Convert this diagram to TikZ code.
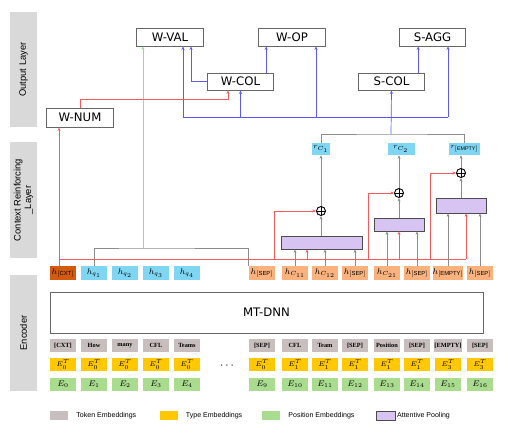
\documentclass[tikz,border=0pt]{standalone}
\usepackage{fontspec}
\setmainfont{Liberation Sans}
\newfontfamily\boxfont{DejaVu Sans}
\newfontfamily\tokfont{Liberation Serif}
\usetikzlibrary{positioning,arrows.meta}

\definecolor{sidegray}{HTML}{D9D9D9}
\definecolor{tokgray}{HTML}{C8BEBE}
\definecolor{typyellow}{HTML}{FFC800}
\definecolor{posgreen}{HTML}{A9DC8F}
\definecolor{hcyan}{HTML}{7FD6F2}
\definecolor{horange}{HTML}{F9B27E}
\definecolor{hcxtcol}{HTML}{D35A0E}
\definecolor{poolpurple}{HTML}{D8C4F2}
\definecolor{linkblue}{HTML}{5A5AF0}
\definecolor{linkred}{HTML}{F25C5C}
\definecolor{linkgreen}{HTML}{88E888}

\begin{document}
\begin{tikzpicture}[
    x=0.03cm, y=-0.03cm,
    side/.style={fill=sidegray, rotate=90, minimum width=3.45cm, minimum height=0.81cm, inner sep=0, align=center, font=\fontsize{8}{9}\selectfont},
    outbox/.style={draw=black!60, line width=0.7pt, fill=white, minimum width=2cm, minimum height=0.54cm, inner sep=0, font=\boxfont\fontsize{10}{12}\selectfont},
    tok/.style={fill=tokgray, minimum width=0.78cm, minimum height=0.4cm, inner sep=0, font=\tokfont\bfseries\fontsize{5.4}{6}\selectfont},
    typemb/.style={tok, fill=typyellow, font=\fontsize{6.5}{7}\selectfont},
    posemb/.style={tok, fill=posgreen, font=\fontsize{7}{8}\selectfont},
    hq/.style={fill=hcyan, minimum width=0.78cm, minimum height=0.42cm, inner sep=0, font=\fontsize{7}{8}\selectfont},
    hc/.style={hq, fill=horange},
    pool/.style={draw=black!70, line width=0.6pt, fill=poolpurple, inner sep=0, minimum height=0.39cm},
    sum/.style={circle, draw, line width=0.8pt, inner sep=0, minimum size=0.27cm,
        path picture={\draw (path picture bounding box.north) -- (path picture bounding box.south)
                            (path picture bounding box.west) -- (path picture bounding box.east);}},
    rbox/.style={fill=hcyan, minimum height=0.36cm, inner sep=1pt, font=\fontsize{6.5}{7}\selectfont},
    swatch/.style={minimum width=0.54cm, minimum height=0.27cm, inner sep=0},
    legtext/.style={inner sep=0, font=\fontsize{6}{7}\selectfont},
    gline/.style={draw=black!45, line width=0.6pt},
    garrow/.style={gline, -{Stealth[length=3pt,width=2.5pt]}},
    bline/.style={draw=linkblue, line width=0.6pt},
    barrow/.style={bline, -{Stealth[length=3pt,width=2.5pt]}},
    rline/.style={draw=linkred, line width=0.6pt},
    rarrow/.style={rline, -{Stealth[length=3pt,width=2.5pt]}},
    grarrow/.style={draw=linkgreen, line width=0.6pt, -{Stealth[length=3pt,width=2.5pt]}}
]
\useasboundingbox (0,0) rectangle (514,433);

% layer labels
\node[side] (outlayer) at (23.5,69.5) {Output Layer};
\node[side] (ctxlayer) at (23.5,200) {Context Reinforcing\\\_Layer};
\node[side] (enclayer) at (23.5,333) {Encoder};

% output heads
\node[outbox] (wval) at (170,37) {W-VAL};
\node[outbox] (wop) at (292,37) {W-OP};
\node[outbox] (sagg) at (432.5,37) {S-AGG};
\node[outbox, minimum height=0.51cm] (wcol) at (240.5,81.5) {W-COL};
\node[outbox, minimum height=0.51cm] (scol) at (391.5,81.5) {S-COL};
\node[outbox, minimum height=0.57cm] (wnum) at (80,117.5) {W-NUM};

% column summaries
\node[rbox, minimum width=0.51cm] (rc1) at (321,149) {$r_{C_1}$};
\node[rbox, minimum width=0.81cm] (rc2) at (401,149) {$r_{C_2}$};
\node[rbox, minimum width=0.81cm] (rempty) at (464.5,149) {$r_{\mathrm{[EMPTY]}}$};

\node[sum] (sum1) at (321,211) {};
\node[sum] (sum2) at (399,193) {};
\node[sum] (sum3) at (461,173) {};

\node[pool, minimum width=2.43cm] (box1) at (321.5,242.5) {};
\node[pool, minimum width=1.5cm] (box2) at (399,224.5) {};
\node[pool, minimum width=1.5cm, minimum height=0.45cm] (box3) at (461,205.5) {};

% encoder outputs
\node[hq, fill=hcxtcol] (hcxt) at (63,273) {$h_{\mathrm{[CXT]}}$};
\node[hq] (hq1) at (94,273) {$h_{q_1}$};
\node[hq] (hq2) at (125,273) {$h_{q_2}$};
\node[hq] (hq3) at (156,273) {$h_{q_3}$};
\node[hq] (hq4) at (187,273) {$h_{q_4}$};
\node[hc] (hsepA) at (262,273) {$h_{\mathrm{[SEP]}}$};
\node[hc] (hc11) at (295,273) {$h_{C_{11}}$};
\node[hc] (hc12) at (325,273) {$h_{C_{12}}$};
\node[hc] (hsepB) at (355,273) {$h_{\mathrm{[SEP]}}$};
\node[hc] (hc21) at (387,273) {$h_{C_{21}}$};
\node[hc] (hsepC) at (417,273) {$h_{\mathrm{[SEP]}}$};
\node[hc] (hempty) at (448,273) {$h_{\mathrm{[EMPTY]}}$};
\node[hc] (hsepD) at (480,273) {$h_{\mathrm{[SEP]}}$};

\node[draw=black!60, line width=0.7pt, minimum width=12.99cm, minimum height=1.23cm, inner sep=0, font=\boxfont\fontsize{10}{12}\selectfont] (mtdnn) at (266.5,312.5) {MT-DNN};

% input embeddings
\node[tok] (tcxt) at (63,345.5) {[CXT]};
\node[tok] (thow) at (94,345.5) {How};
\node[tok] (tmany) at (125,345.5) {many};
\node[tok] (tcfl) at (156,345.5) {CFL};
\node[tok] (tteams) at (187,345.5) {Teams};
\node[tok] (tsepA) at (262,345.5) {[SEP]};
\node[tok] (tcflB) at (295,345.5) {CFL};
\node[tok] (tteam) at (325,345.5) {Team};
\node[tok] (tsepB) at (355,345.5) {[SEP]};
\node[tok] (tposition) at (387,345.5) {Position};
\node[tok] (tsepC) at (417,345.5) {[SEP]};
\node[tok] (tempty) at (448,345.5) {[EMPTY]};
\node[tok] (tsepD) at (480,345.5) {[SEP]};

\node[typemb] (ty1) at (63,364.5) {$E_0^T$};
\node[typemb] (ty2) at (94,364.5) {$E_0^T$};
\node[typemb] (ty3) at (125,364.5) {$E_0^T$};
\node[typemb] (ty4) at (156,364.5) {$E_0^T$};
\node[typemb] (ty5) at (187,364.5) {$E_0^T$};
\node[typemb] (ty6) at (262,364.5) {$E_0^T$};
\node[typemb] (ty7) at (295,364.5) {$E_1^T$};
\node[typemb] (ty8) at (325,364.5) {$E_1^T$};
\node[typemb] (ty9) at (355,364.5) {$E_1^T$};
\node[typemb] (ty10) at (387,364.5) {$E_1^T$};
\node[typemb] (ty11) at (417,364.5) {$E_1^T$};
\node[typemb] (ty12) at (448,364.5) {$E_3^T$};
\node[typemb] (ty13) at (480,364.5) {$E_3^T$};

\node (dots) at (227,366) {$\cdots$};

\node[posemb] (pe0) at (63,384.5) {$E_0$};
\node[posemb] (pe1) at (94,384.5) {$E_1$};
\node[posemb] (pe2) at (125,384.5) {$E_2$};
\node[posemb] (pe3) at (156,384.5) {$E_3$};
\node[posemb] (pe4) at (187,384.5) {$E_4$};
\node[posemb] (pe9) at (262,384.5) {$E_9$};
\node[posemb] (pe10) at (295,384.5) {$E_{10}$};
\node[posemb] (pe11) at (325,384.5) {$E_{11}$};
\node[posemb] (pe12) at (355,384.5) {$E_{12}$};
\node[posemb] (pe13) at (387,384.5) {$E_{13}$};
\node[posemb] (pe14) at (417,384.5) {$E_{14}$};
\node[posemb] (pe15) at (448,384.5) {$E_{15}$};
\node[posemb] (pe16) at (480,384.5) {$E_{16}$};

% legend
\node[swatch, fill=tokgray] (legtok) at (59,415.5) {};
\node[legtext, right=0.24cm of legtok] (legtoktext) {Token Embeddings};
\node[swatch, fill=typyellow] (legtyp) at (168.5,415.5) {};
\node[legtext, right=0.24cm of legtyp] (legtyptext) {Type Embeddings};
\node[swatch, fill=posgreen] (legpos) at (271,415.5) {};
\node[legtext, right=0.24cm of legpos] (legpostext) {Position Embeddings};
\node[swatch, fill=poolpurple, draw=black!70, minimum width=0.57cm] (legpool) at (385.5,415.5) {};
\node[legtext, right=0.05cm of legpool] (legpooltext) {Attentive Pooling};

% question summary
\coordinate (qtop) at (143,248);
\draw[gline] (hq1.north) |- (qtop) -| (hsepA.north west);
\draw[grarrow] (qtop) -- (qtop |- wval.south);

% [CXT] broadcast
\coordinate (cl) at (59,259);
\coordinate (cr) at (466,259);
\coordinate (c1) at (307,259);
\coordinate (s1) at (274,259);
\coordinate (s2) at (368,259);
\coordinate (s3) at (430,259);
\draw[rarrow] (hcxt.north -| cl) -- (cl |- wnum.south);
\draw[rline] (cl) -- (cr);
\draw[rarrow] (c1) -- (c1 |- box1.south);
\draw[rarrow] (cl -| sum2) -- (sum2 |- box2.south);
\draw[rarrow] (cr) -- (cr |- box3.south);
\draw[rarrow] (s1) |- (sum1.west);
\draw[rarrow] (s2) |- (sum2.west);
\draw[rarrow] (s3) |- (sum3.west);

% column pooling
\draw[garrow] (hc11.north) -- (hc11.north |- box1.south);
\draw[garrow] (hc12.north) -- (hc12.north |- box1.south);
\draw[garrow] (hsepB.north) -- (hsepB.north |- box1.south);
\draw[garrow] (hc21.north) -- (hc21.north |- box2.south);
\draw[garrow] (hsepC.north) -- (hsepC.north |- box2.south);
\draw[garrow] (hempty.north) -- (hempty.north |- box3.south);
\draw[garrow] (hsepD.north) -- (hsepD.north |- box3.south);
\draw[garrow] (box1.north -| sum1) -- (sum1.south);
\draw[garrow] (box2.north -| sum2) -- (sum2.south);
\draw[garrow] (box3.north -| sum3) -- (sum3.south);
\draw[garrow] (sum1.north) -- (sum1.north |- rc1.south);
\draw[garrow] (sum2.north) -- (sum2.north |- rc2.south);
\draw[garrow] (sum3.north) -- (sum3.north |- rempty.south);

\coordinate (rtop) at (391,134);
\draw[gline] (rc1.north) |- (rtop) -| (rempty.north);

% heads
\coordinate (bl) at (183,117);
\coordinate (br) at (448,117);
\coordinate (bop) at (316,117);
\draw[bline] (bl) -- (br);
\draw[barrow] (rtop) -- (scol.south);
\draw[barrow] (bl) -- (bl |- wval.south);
\draw[barrow] (bl -| wcol) -- (wcol.south);
\draw[barrow] (bop) -- (bop |- wop.south);
\draw[barrow] (br) -- (br |- sagg.south);

\coordinate (wvalin) at ([xshift=0.63cm]wval.south);
\coordinate (wcolout) at ([xshift=0.77cm]wcol.north);
\coordinate (scolout) at ([xshift=0.8cm]scol.north);
\draw[barrow] (wcol.west) -| (wvalin);
\draw[barrow] (wcolout) -- (wcolout |- wop.south);
\draw[barrow] (scolout) -- (scolout |- sagg.south);

\coordinate (numbend) at (80,99);
\coordinate (numin) at ([xshift=-0.375cm]wcol.south);
\draw[rarrow] (wnum.north) -- (numbend) -| (numin);

\end{tikzpicture}
\end{document}
